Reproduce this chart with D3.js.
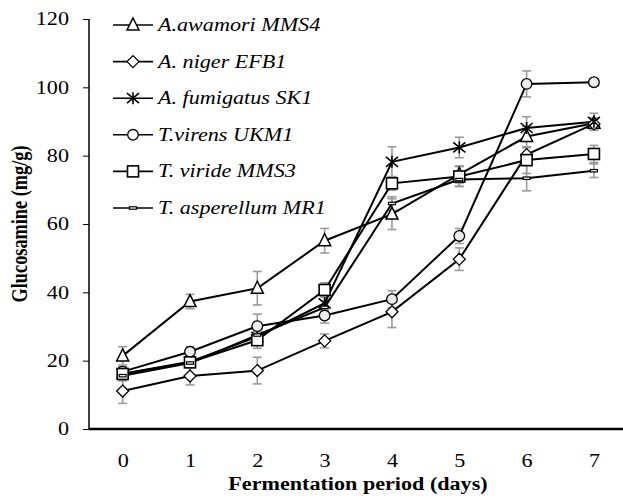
<!DOCTYPE html>
<html><head><meta charset="utf-8">
<script src="https://cdn.jsdelivr.net/npm/d3@7/dist/d3.min.js"></script>
<style>body{margin:0;background:#fff}svg{display:block}</style>
</head><body>
<svg id="c" width="623" height="500"></svg>
<script>
const days = [0,1,2,3,4,5,6,7];
const yTicks = [0,20,40,60,80,100,120];
const seriesNames = ["A.awamori MMS4","A. niger EFB1","A. fumigatus SK1","T.virens UKM1","T. viride MMS3","T. asperellum MR1"];
const markers = ["triangle","diamond","star","circle","square","dash"];
const awamori    = [21.4,37.3,41.2,55.1,62.9,74.5,85.6,89.5];
const niger      = [11.1,15.5,17.1,25.8,34.3,49.7,80.3,89.3];
const fumigatus  = [16.2,19.7,27.0,36.8,78.2,82.4,88.1,89.9];
const virens     = [16.8,22.6,30.1,33.2,38.0,56.5,101.0,101.5];
const viride     = [16.1,19.5,26.0,40.7,71.9,73.9,78.7,80.5];
const asperellum = [15.6,19.3,27.5,35.6,66.0,73.0,73.4,75.6];
const awamoriErr    = [2.7,2.1,4.9,3.6,4.5,2.5,3.0,1.5];
const nigerErr      = [3.6,2.6,3.9,2.0,4.6,3.3,2.0,1.5];
const fumigatusErr  = [1.5,1.5,2.0,2.0,4.4,3.0,3.3,2.5];
const virensErr     = [1.5,1.5,3.5,2.2,2.5,2.2,3.8,1.0];
const virideErr     = [2.0,1.5,2.4,2.1,2.0,2.9,3.9,2.5];
const asperellumErr = [1.0,1.0,2.0,2.0,2.0,2.0,3.7,2.0];

const values = [awamori,niger,fumigatus,virens,viride,asperellum];
const errs = [awamoriErr,nigerErr,fumigatusErr,virensErr,virideErr,asperellumErr];

const svg = d3.select("#c");
const x = d3.scaleLinear().domain([-0.5,7.5]).range([89,627.6]);
const y = d3.scaleLinear().domain([0,120]).range([429,19]);
const ERRC = "#9a9a9a";
const FONT = "'Liberation Serif'";
const FS = "18.3px";
const SX = 1.21;

function stretch(sel){
  sel.each(function(){
    const t = d3.select(this);
    const tx = +t.attr("x")||0, ty = +t.attr("y")||0;
    t.attr("x",0).attr("y",0).attr("transform",`translate(${tx},${ty}) scale(${SX},1)`);
  });
}

// axes
const yAxis = d3.axisLeft(y).tickValues(yTicks).tickSize(6).tickPadding(14);
const gy = svg.append("g").attr("transform","translate(89,0)").call(yAxis);
gy.select(".domain").attr("stroke","#000").attr("stroke-width",1.5).attr("d","M0,"+y(120)+"V"+y(0));
gy.selectAll(".tick line").attr("stroke","#000").attr("stroke-width",1);
gy.selectAll(".tick text").style("font-family",FONT).style("font-size",FS).attr("fill","#000").call(stretch);

const xAxis = d3.axisBottom(x).tickValues(days).tickSize(0).tickPadding(25);
const gx = svg.append("g").attr("transform","translate(0,"+y(0)+")").call(xAxis);
gx.select(".domain").attr("stroke","#000").attr("stroke-width",2.5).attr("d","M89,0H623");
gx.selectAll(".tick text").style("font-family",FONT).style("font-size",FS).attr("fill","#000").call(stretch);

svg.append("text").attr("x",358).attr("y",490).attr("text-anchor","middle")
  .style("font-family",FONT).style("font-size",FS).style("font-weight","bold").text("Fermentation period (days)").call(stretch);
svg.append("text").attr("transform",`translate(27,${(y(0)+y(120))/2}) rotate(-90) scale(1,${SX})`).attr("text-anchor","middle")
  .style("font-family",FONT).style("font-size",FS).style("font-weight","bold").text("Glucosamine (mg/g)");

// error bars
const ge = svg.append("g");
values.forEach((vals,si)=>{
  vals.forEach((v,i)=>{
    const e = errs[si][i], cx = x(days[i]);
    const y1 = y(v+e), y2 = y(v-e);
    ge.append("line").attr("x1",cx).attr("x2",cx).attr("y1",y1).attr("y2",y2).attr("stroke",ERRC).attr("stroke-width",1.6);
    [y1,y2].forEach(yy=>ge.append("line").attr("x1",cx-4.5).attr("x2",cx+4.5).attr("y1",yy).attr("y2",yy).attr("stroke",ERRC).attr("stroke-width",1.6));
  });
});

// lines
const line = d3.line().x((d,i)=>x(days[i])).y(d=>y(d));
values.forEach(vals=>{
  svg.append("path").attr("d",line(vals)).attr("fill","none").attr("stroke","#000").attr("stroke-width",2);
});

function drawMarker(g,type,cx,cy,fill){
  if(type==="triangle"){
    g.append("path").attr("d",`M${cx},${cy-7}L${cx+6},${cy+5}L${cx-6},${cy+5}Z`).attr("fill","#fff").attr("stroke","#000").attr("stroke-width",1.5);
  } else if(type==="diamond"){
    g.append("path").attr("d",`M${cx},${cy-6}L${cx+6},${cy}L${cx},${cy+6}L${cx-6},${cy}Z`).attr("fill","#fff").attr("stroke","#000").attr("stroke-width",1.3);
  } else if(type==="star"){
    g.append("path").attr("d",`M${cx-6},${cy-5}L${cx+6},${cy+5}M${cx+6},${cy-5}L${cx-6},${cy+5}M${cx},${cy-6}L${cx},${cy+6}`).attr("fill","none").attr("stroke","#000").attr("stroke-width",1.6);
  } else if(type==="circle"){
    g.append("circle").attr("cx",cx).attr("cy",cy).attr("r",5.3).attr("fill",fill).attr("stroke","#000").attr("stroke-width",1.3);
  } else if(type==="square"){
    g.append("rect").attr("x",cx-5.5).attr("y",cy-5.5).attr("width",11).attr("height",11).attr("fill","#fff").attr("stroke","#000").attr("stroke-width",1.6);
  } else if(type==="dash"){
    g.append("rect").attr("x",cx-3.5).attr("y",cy-1.2).attr("width",7).attr("height",2.4).attr("fill","#fff").attr("stroke","#000").attr("stroke-width",1.2);
  }
}

// markers
const gm = svg.append("g");
values.forEach((vals,si)=>{
  vals.forEach((v,i)=>drawMarker(gm,markers[si],x(days[i]),y(v),"#ececec"));
});

// legend
const legY0 = 25, legDy = 36.6;
const gl = svg.append("g");
seriesNames.forEach((name,si)=>{
  const ly = legY0 + si*legDy;
  gl.append("line").attr("x1",113).attr("x2",153).attr("y1",ly).attr("y2",ly).attr("stroke","#000").attr("stroke-width",1.6);
  drawMarker(gl,markers[si],133,ly,"#fff");
  gl.append("text").attr("x",158).attr("y",ly+6).style("font-family",FONT).style("font-size",FS).style("font-style","italic").text(name).call(stretch);
});
</script>
</body></html>
